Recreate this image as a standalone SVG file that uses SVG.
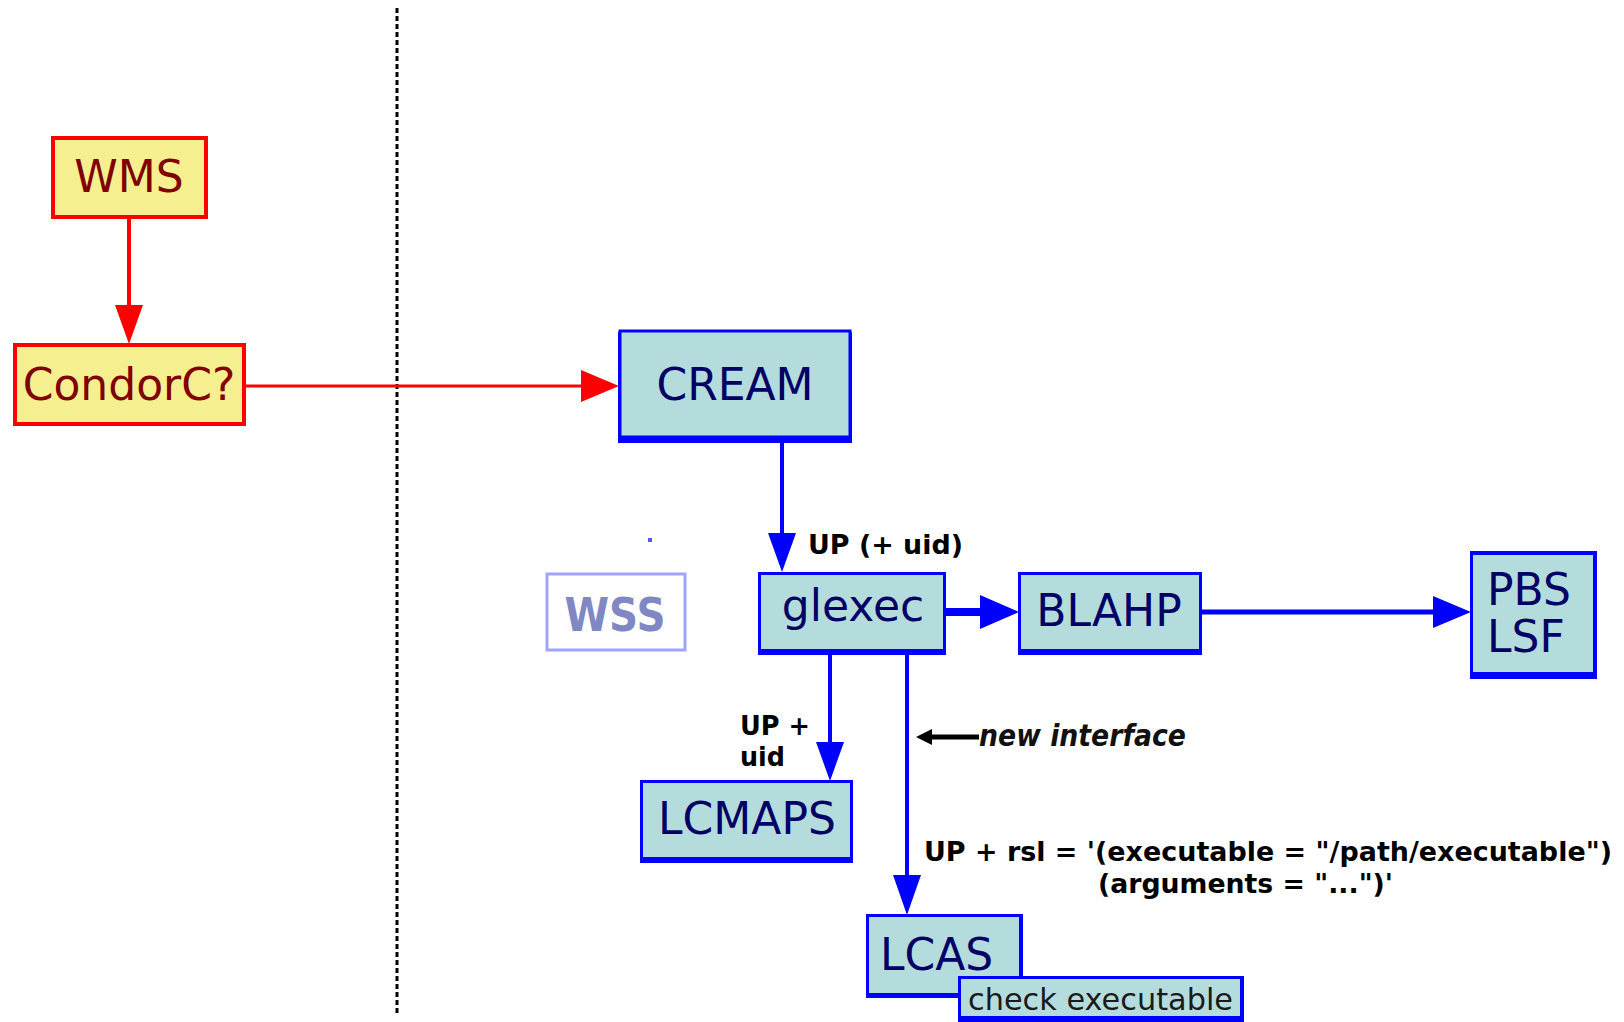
<svg xmlns="http://www.w3.org/2000/svg" width="1624" height="1022" viewBox="0 0 1624 1022">
<style>
.ybox{fill:#f5ef8f;stroke:#ff0000;stroke-width:4}
.ytxt{font-family:"DejaVu Sans",sans-serif;font-size:44px;fill:#800000}
.bbox{fill:#b5dcdc;stroke:#0000ff;stroke-width:3}
.bsh{fill:#0000ff}
.btxt{font-family:"DejaVu Sans",sans-serif;font-size:44px;fill:#000066}
.lbl{font-family:"DejaVu Sans",sans-serif;font-weight:bold;font-size:27px;fill:#000}
.red{stroke:#ff0000;fill:none}
.blue{stroke:#0000ff;fill:none}
</style>
<rect width="1624" height="1022" fill="#fff"/>
<line x1="397" y1="8" x2="397" y2="1016" stroke="#000" stroke-width="3" stroke-dasharray="5 3"/>
<g id="WMS">
<rect class="ybox" x="53" y="138" width="153" height="79"/>
<text class="ytxt" x="129" y="192" text-anchor="middle">WMS</text>
</g>
<g id="CondorC">
<rect class="ybox" x="15" y="345" width="229" height="79"/>
<text class="ytxt" x="129" y="400" text-anchor="middle">CondorC?</text>
</g>
<g id="CREAM">
<rect class="bsh" x="618" y="332" width="234" height="111"/>
<rect class="bbox" x="620" y="331" width="230" height="106"/>
<text class="btxt" x="735" y="400" text-anchor="middle">CREAM</text>
</g>
<g id="WSS">
<rect x="547" y="574" width="138" height="76" fill="#fff" stroke="#a0a4ff" stroke-width="3"/>
<text x="615" y="631" text-anchor="middle" font-family="DejaVu Sans, sans-serif" font-weight="bold" font-size="46" fill="#8088c4" textLength="101" lengthAdjust="spacingAndGlyphs">WSS</text>
<rect x="648" y="538" width="4" height="4" fill="#5555ff"/>
</g>
<g id="glexec">
<rect class="bsh" x="758" y="572" width="188" height="83"/>
<rect class="bbox" x="759.5" y="573.5" width="185" height="77"/>
<text class="btxt" x="853" y="621" text-anchor="middle">glexec</text>
</g>
<g id="BLAHP">
<rect class="bsh" x="1018" y="572" width="184" height="83"/>
<rect class="bbox" x="1019.5" y="573.5" width="181" height="77"/>
<text class="btxt" x="1109" y="626" text-anchor="middle">BLAHP</text>
</g>
<g id="PBSLSF">
<rect class="bsh" x="1470" y="551" width="127" height="128"/>
<rect class="bbox" x="1471.5" y="553.5" width="123" height="120"/>
<text class="btxt" x="1487" y="605">PBS</text>
<text class="btxt" x="1487" y="652">LSF</text>
</g>
<g id="LCMAPS">
<rect class="bsh" x="640" y="780" width="213" height="83"/>
<rect class="bbox" x="641.5" y="781.5" width="210" height="77"/>
<text class="btxt" x="747" y="834" text-anchor="middle">LCMAPS</text>
</g>
<g id="LCAS">
<rect class="bsh" x="866" y="914" width="157" height="84"/>
<rect class="bbox" x="867.5" y="915.5" width="153" height="79"/>
<text class="btxt" x="880" y="970">LCAS</text>
</g>
<g id="check">
<rect class="bsh" x="958" y="976" width="286" height="46"/>
<rect class="bbox" x="959.5" y="977.5" width="282" height="40"/>
<text x="968" y="1010" font-family="DejaVu Sans, sans-serif" font-size="30" fill="#1a1a1a" textLength="265" lengthAdjust="spacingAndGlyphs">check executable</text>
</g>
<g id="connectors">
<line class="red" x1="129" y1="217" x2="129" y2="308" stroke-width="4"/>
<polygon points="115,305 143,305 129,344" fill="#ff0000"/>
<line class="red" x1="244" y1="386" x2="585" y2="386" stroke-width="3"/>
<polygon points="581,370 581,402 619,386" fill="#ff0000"/>
<line class="blue" x1="782" y1="441" x2="782" y2="536" stroke-width="4"/>
<polygon points="768,533 796,533 782,572" fill="#0000ff"/>
<line class="blue" x1="946" y1="612" x2="984" y2="612" stroke-width="8"/>
<polygon points="980,595 980,629 1019,612" fill="#0000ff"/>
<line class="blue" x1="1201" y1="612" x2="1437" y2="612" stroke-width="5"/>
<polygon points="1433,596 1433,628 1471,612" fill="#0000ff"/>
<line class="blue" x1="830" y1="653" x2="830" y2="745" stroke-width="4"/>
<polygon points="816,742 844,742 830,781" fill="#0000ff"/>
<line class="blue" x1="907" y1="653" x2="907" y2="878" stroke-width="4"/>
<polygon points="893,875 921,875 907,915" fill="#0000ff"/>
<line x1="930" y1="737" x2="979" y2="737" stroke="#000" stroke-width="5"/>
<polygon points="932,729 932,745 916,737" fill="#000"/>
</g>
<g id="labels">
<text class="lbl" x="808" y="554" textLength="155" lengthAdjust="spacingAndGlyphs">UP (+ uid)</text>
<text class="lbl" x="740" y="735" textLength="70" lengthAdjust="spacingAndGlyphs">UP +</text>
<text class="lbl" x="740" y="766" textLength="45" lengthAdjust="spacingAndGlyphs">uid</text>
<text x="979" y="746" font-family="DejaVu Sans, sans-serif" font-weight="bold" font-style="italic" font-size="30" fill="#111" textLength="207" lengthAdjust="spacingAndGlyphs">new interface</text>
<text class="lbl" x="924" y="861" textLength="688" lengthAdjust="spacingAndGlyphs">UP + rsl = '(executable = "/path/executable")</text>
<text class="lbl" x="1098" y="893" textLength="295" lengthAdjust="spacingAndGlyphs">(arguments = "...")'</text>
</g>
</svg>
